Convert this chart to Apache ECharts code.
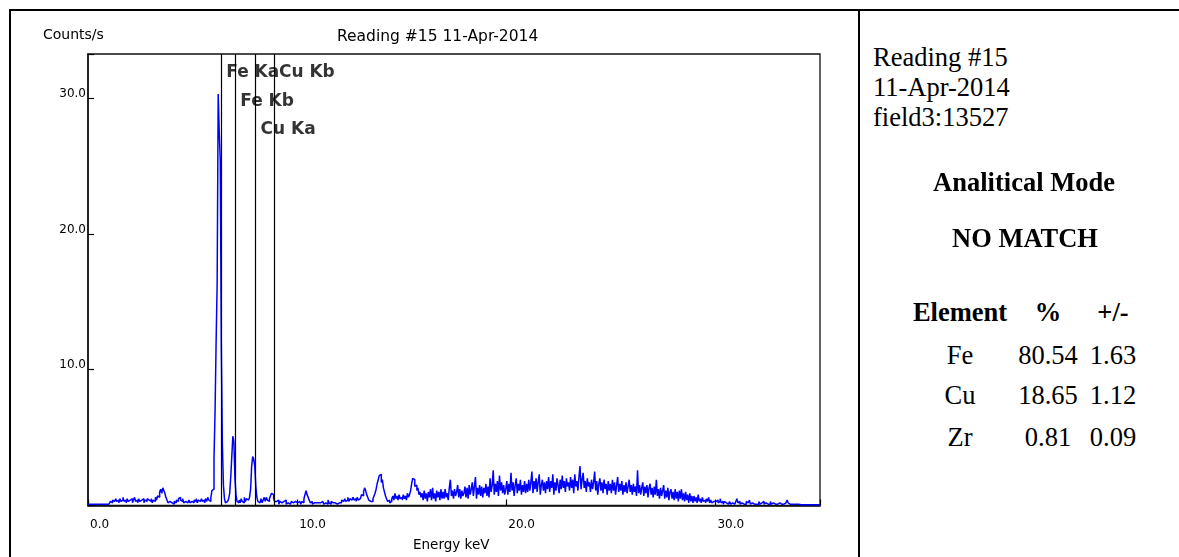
<!DOCTYPE html>
<html>
<head>
<meta charset="utf-8">
<script src="https://cdn.jsdelivr.net/npm/echarts/dist/echarts.min.js"></script>
<style>
  html, body { margin: 0; padding: 0; background: #fff; width: 1179px; height: 557px; overflow: hidden; }
  #frame { position: absolute; left: 9px; top: 9px; width: 1200px; height: 600px; border-top: 2px solid #000; border-left: 2px solid #000; }
  #sep { position: absolute; left: 858px; top: 9px; width: 2px; height: 600px; background: #000; }
  #chart { position: absolute; left: 11px; top: 11px; width: 847px; height: 546px; }
  .side { position: absolute; font-family: "Liberation Serif", "Times New Roman", serif; font-size: 26.5px; line-height: 30px; color: #000; white-space: nowrap; }
  .b { font-weight: bold; }
  .c { text-align: center; width: 120px; }
</style>
</head>
<body>
<div id="frame"></div>
<div id="sep"></div>
<div id="chart"></div>

<div id="info" class="side" style="left:873px; top:42px;"></div>
<div id="mode" class="side b" style="left:824px; width:400px; text-align:center; top:167px;"></div>
<div id="match" class="side b" style="left:825px; width:400px; text-align:center; top:223px;"></div>
<div id="tbl"></div>

<script>
// ---------- data ----------
const chartTitle = 'Reading #15 11-Apr-2014';
const yAxisTitle = 'Counts/s';
const xAxisTitle = 'Energy keV';
const channelWidthKeV = 0.05;

// counts per second, one value per 0.05 keV channel, 0.00 .. 35.00 keV
const countsPerSec = [
  0.1,0.1,0.1,0.1,0.1,0.1,0.1,0.1,0.1,0.1,0.1,0.1,0.1,0.1,0.1,0.1,0.1,0.1,0.1,0.1,
  0.1,0.1,0.3,0.2,0.4,0.3,0.2,0.5,0.3,0.4,0.2,0.5,0.3,0.4,0.6,0.3,0.4,0.2,0.5,0.3,
  0.4,0.3,0.5,0.2,0.4,0.6,0.3,0.4,0.2,0.5,0.3,0.4,0.3,0.5,0.2,0.4,0.3,0.5,0.4,0.3,
  0.3,0.5,0.2,0.4,0.3,0.6,0.4,0.7,0.6,1.0,1.2,0.9,1.3,1.1,0.9,0.6,0.4,0.2,0.3,0.2,
  0.2,0.3,0.1,0.3,0.2,0.4,0.3,0.5,0.6,0.4,0.3,0.5,0.2,0.3,0.4,0.2,0.3,0.4,0.2,0.3,
  0.3,0.2,0.4,0.3,0.5,0.2,0.4,0.3,0.2,0.5,0.3,0.4,0.2,0.5,0.3,0.6,0.4,0.3,0.6,1.1,
  1.2,3.5,6.9,12.0,16.3,30.3,27.5,25.4,11.6,4.5,1.5,0.5,0.2,0.3,0.2,0.5,0.9,2.1,3.6,5.1,
  4.7,2.0,0.8,0.3,0.2,0.4,0.2,0.5,0.3,0.2,0.6,0.3,0.5,0.4,0.3,0.6,1.2,2.9,3.6,3.4,
  2.9,1.4,0.6,0.3,0.2,0.3,0.5,0.2,0.4,0.6,0.3,0.6,0.4,0.3,0.5,0.7,0.9,0.8,0.5,0.3,
  0.3,0.2,0.4,0.1,0.3,0.2,0.1,0.3,0.2,0.4,0.1,0.2,0.3,0.1,0.2,0.3,0.2,0.1,0.3,0.2,
  0.2,0.1,0.3,0.2,0.1,0.3,0.2,0.5,0.8,1.1,0.8,0.6,0.4,0.2,0.3,0.1,0.2,0.1,0.2,0.1,
  0.2,0.1,0.2,0.1,0.3,0.2,0.1,0.2,0.3,0.1,0.4,0.2,0.1,0.3,0.2,0.1,0.2,0.3,0.1,0.2,
  0.2,0.3,0.2,0.4,0.3,0.2,0.5,0.3,0.4,0.6,0.3,0.5,0.4,0.3,0.6,0.4,0.5,0.3,0.6,0.4,
  0.5,0.6,0.8,0.7,1.0,1.3,1.1,0.8,0.6,0.4,0.3,0.4,0.3,0.5,0.7,0.9,1.2,1.6,1.9,2.2,
  2.3,1.7,1.9,1.3,1.0,0.7,0.5,0.3,0.4,0.2,0.3,0.5,0.7,0.4,0.9,0.5,0.7,0.4,0.8,0.5,
  0.6,0.4,0.8,0.5,0.7,0.4,0.9,0.6,0.8,1.1,1.6,2.0,1.9,1.4,1.5,1.1,1.3,0.8,1.0,0.6,
  0.9,0.4,1.1,0.5,0.9,0.3,1.0,0.6,1.2,0.4,1.3,0.5,0.9,0.3,1.1,0.6,1.0,0.4,1.2,0.5,
  1.0,0.5,1.2,0.6,0.9,0.4,1.3,1.9,0.7,1.1,0.5,1.2,0.7,1.0,1.5,0.6,1.2,0.5,1.1,0.7,
  0.9,1.4,0.6,1.3,0.5,1.5,0.8,1.2,1.7,0.7,1.4,2.1,0.5,1.3,0.8,1.5,0.7,1.4,0.6,1.3,
  0.9,1.6,0.7,1.4,0.6,2.0,1.0,1.5,2.6,0.8,1.6,1.0,1.8,0.7,2.2,1.1,1.7,0.9,1.5,0.8,
  1.2,1.8,0.8,1.6,1.0,2.4,1.1,1.7,0.7,1.5,2.0,0.9,1.6,1.1,1.9,0.8,1.5,1.0,1.8,0.9,
  1.6,1.0,1.9,1.1,1.7,2.5,0.9,1.8,1.2,2.0,1.0,1.7,2.3,0.8,1.5,1.9,1.1,1.7,0.9,1.8,
  1.2,2.1,1.0,1.8,1.3,2.3,0.8,1.7,1.1,2.0,1.5,0.9,1.9,1.2,2.2,1.3,1.8,1.0,2.0,1.4,
  1.7,1.1,2.1,1.3,1.9,0.9,2.3,1.4,1.8,1.1,2.1,2.9,1.2,1.9,2.4,1.3,1.8,1.0,2.0,1.4,
  1.7,1.0,1.9,1.2,1.7,2.5,1.1,1.8,0.8,1.6,2.0,1.1,1.7,0.9,1.9,1.2,1.6,0.8,1.8,1.1,
  1.6,0.9,1.9,1.1,1.7,0.8,1.5,2.1,1.0,1.6,1.1,1.8,0.8,1.5,1.0,1.7,0.9,1.4,1.9,1.0,
  1.5,0.8,1.6,1.0,1.4,0.7,2.6,0.9,1.5,0.8,1.3,1.7,0.7,1.4,0.9,1.5,0.6,1.3,1.6,0.8,
  1.3,0.6,1.4,0.8,1.9,0.7,1.2,0.5,1.3,0.7,1.1,1.5,0.5,1.1,0.6,1.3,0.4,1.0,1.2,0.5,
  1.0,0.4,1.2,0.5,1.0,0.3,1.1,0.5,1.2,0.4,0.9,0.3,1.0,0.4,0.8,0.2,0.9,0.3,0.7,0.2,
  0.7,0.3,0.6,0.2,0.8,0.3,0.5,0.2,0.6,0.3,0.4,0.2,0.5,0.3,0.6,0.2,0.4,0.2,0.3,0.2,
  0.3,0.2,0.4,0.2,0.3,0.5,0.2,0.3,0.1,0.3,0.2,0.3,0.1,0.2,0.3,0.1,0.2,0.3,0.1,0.2,
  0.3,0.5,0.2,0.3,0.1,0.2,0.3,0.1,0.2,0.1,0.3,0.2,0.1,0.4,0.1,0.2,0.3,0.1,0.2,0.1,
  0.2,0.1,0.3,0.1,0.2,0.1,0.3,0.1,0.2,0.1,0.1,0.2,0.1,0.3,0.1,0.2,0.1,0.1,0.2,0.1,
  0.1,0.2,0.1,0.1,0.2,0.1,0.1,0.2,0.1,0.4,0.2,0.1,0.1,0.1,0.2,0.1,0.1,0.1,0.1,0.1,
  0.1,0.05,0.05,0.1,0.05,0.05,0.05,0.05,0.05,0.05,0.05,0.05,0.05,0.05,0.05,0.05,0.05,0.05,0.05,0.05,
  0.05
];

// element line markers
const markerNames = ['Fe Ka', 'Fe Kb', 'Cu Ka', 'Cu Kb'];
const markerEnergyKeV = [6.37, 7.04, 8.01, 8.89];

// axis ranges / ticks
const xMin = 0, xMax = 35, xInterval = 10;
const yMin = 0, yMax = 33.25, yInterval = 10;

// side panel text and result table
const infoLines = ['Reading #15', '11-Apr-2014', 'field3:13527'];
const modeText = 'Analitical Mode';
const matchText = 'NO MATCH';
const tableHeader = ['Element', '%', '+/-'];
const tableElements = ['Fe', 'Cu', 'Zr'];
const tablePercent = ['80.54', '18.65', '0.81'];
const tableError = ['1.63', '1.12', '0.09'];

// ---------- side panel (HTML text) ----------
(function () {
  document.getElementById('info').innerHTML = infoLines.join('<br>');
  document.getElementById('mode').textContent = modeText;
  document.getElementById('match').textContent = matchText;
  const colCenters = [960, 1048, 1113];
  const rowCenters = [311.7, 355, 395, 436.7];
  const rows = [tableHeader].concat(tableElements.map((e, i) => [e, tablePercent[i], tableError[i]]));
  let html = '';
  rows.forEach((r, ri) => {
    r.forEach((t, ci) => {
      html += '<div class="side c' + (ri === 0 ? ' b' : '') + '" style="left:' + (colCenters[ci] - 60) +
        'px; top:' + (rowCenters[ri] - 15) + 'px;">' + t + '</div>';
    });
  });
  document.getElementById('tbl').innerHTML = html;
})();

// ---------- chart ----------
const energyKeV = countsPerSec.map((_, i) => +(i * channelWidthKeV).toFixed(2));
const spectrum = energyKeV.map((e, i) => [e, countsPerSec[i]]);
const labelTier = [0, 1, 2, 0];
const labelPoints = markerEnergyKeV.map((e, i) => ({ value: [e, 31.85 - labelTier[i] * 2.1], name: markerNames[i] }));

const FONT = 'DejaVu Sans';
const chart = echarts.init(document.getElementById('chart'), null, { renderer: 'canvas' });
chart.setOption({
  animation: false,
  backgroundColor: '#fff',
  title: [
    { text: chartTitle, left: 326, top: 18, padding: 0,
      textStyle: { fontFamily: FONT, fontSize: 15.5, fontWeight: 'normal', color: '#000' } },
    { text: yAxisTitle, left: 32, top: 17, padding: 0,
      textStyle: { fontFamily: FONT, fontSize: 14, fontWeight: 'normal', color: '#000' } },
    { text: xAxisTitle, left: 402, top: 527, padding: 0,
      textStyle: { fontFamily: FONT, fontSize: 13.5, fontWeight: 'normal', color: '#000' } }
  ],
  grid: { left: 77, top: 43, width: 732, height: 451.5, show: true, borderColor: '#111', borderWidth: 1.3, backgroundColor: 'transparent' },
  xAxis: {
    type: 'value', min: xMin, max: xMax, interval: xInterval,
    axisLine: { show: true, onZero: false, lineStyle: { color: '#111', width: 1.5 } },
    axisTick: { show: true, inside: true, length: 6, lineStyle: { color: '#000', width: 1.2 } },
    axisLabel: { margin: 13, align: 'left', padding: [0, 0, 0, 2], fontFamily: FONT, fontSize: 12, color: '#000',
      formatter: v => (v % 10 === 0 ? v.toFixed(1) : '') },
    splitLine: { show: false }
  },
  yAxis: {
    type: 'value', min: yMin, max: yMax, interval: yInterval,
    axisLine: { show: true, onZero: false, lineStyle: { color: '#111', width: 1.5 } },
    axisTick: { show: true, inside: true, length: 6, lineStyle: { color: '#000', width: 1.2 } },
    axisLabel: { margin: 2, verticalAlign: 'bottom', lineHeight: 9, fontFamily: FONT, fontSize: 12, color: '#000',
      formatter: v => (v !== 0 && v % 10 === 0 ? v.toFixed(1) : '') },
    splitLine: { show: false }
  },
  series: [
    {
      type: 'line', data: spectrum, step: 'middle', showSymbol: false, symbol: 'none',
      lineStyle: { color: '#0000ff', width: 1.5 }, silent: true, clip: true,
      markLine: {
        silent: true, symbol: ['none', 'none'], animation: false,
        lineStyle: { color: '#000', width: 1.2, type: 'solid' },
        label: { show: false },
        data: markerEnergyKeV.map(e => ({ xAxis: e }))
      }
    },
    {
      type: 'scatter', data: labelPoints, symbolSize: 0, silent: true,
      label: { show: true, position: 'right', distance: 5, formatter: p => p.name,
        fontFamily: FONT, fontWeight: 'bold', fontSize: 17, color: '#000', textBorderWidth: 0 }
    }
  ]
});
</script>
</body>
</html>
